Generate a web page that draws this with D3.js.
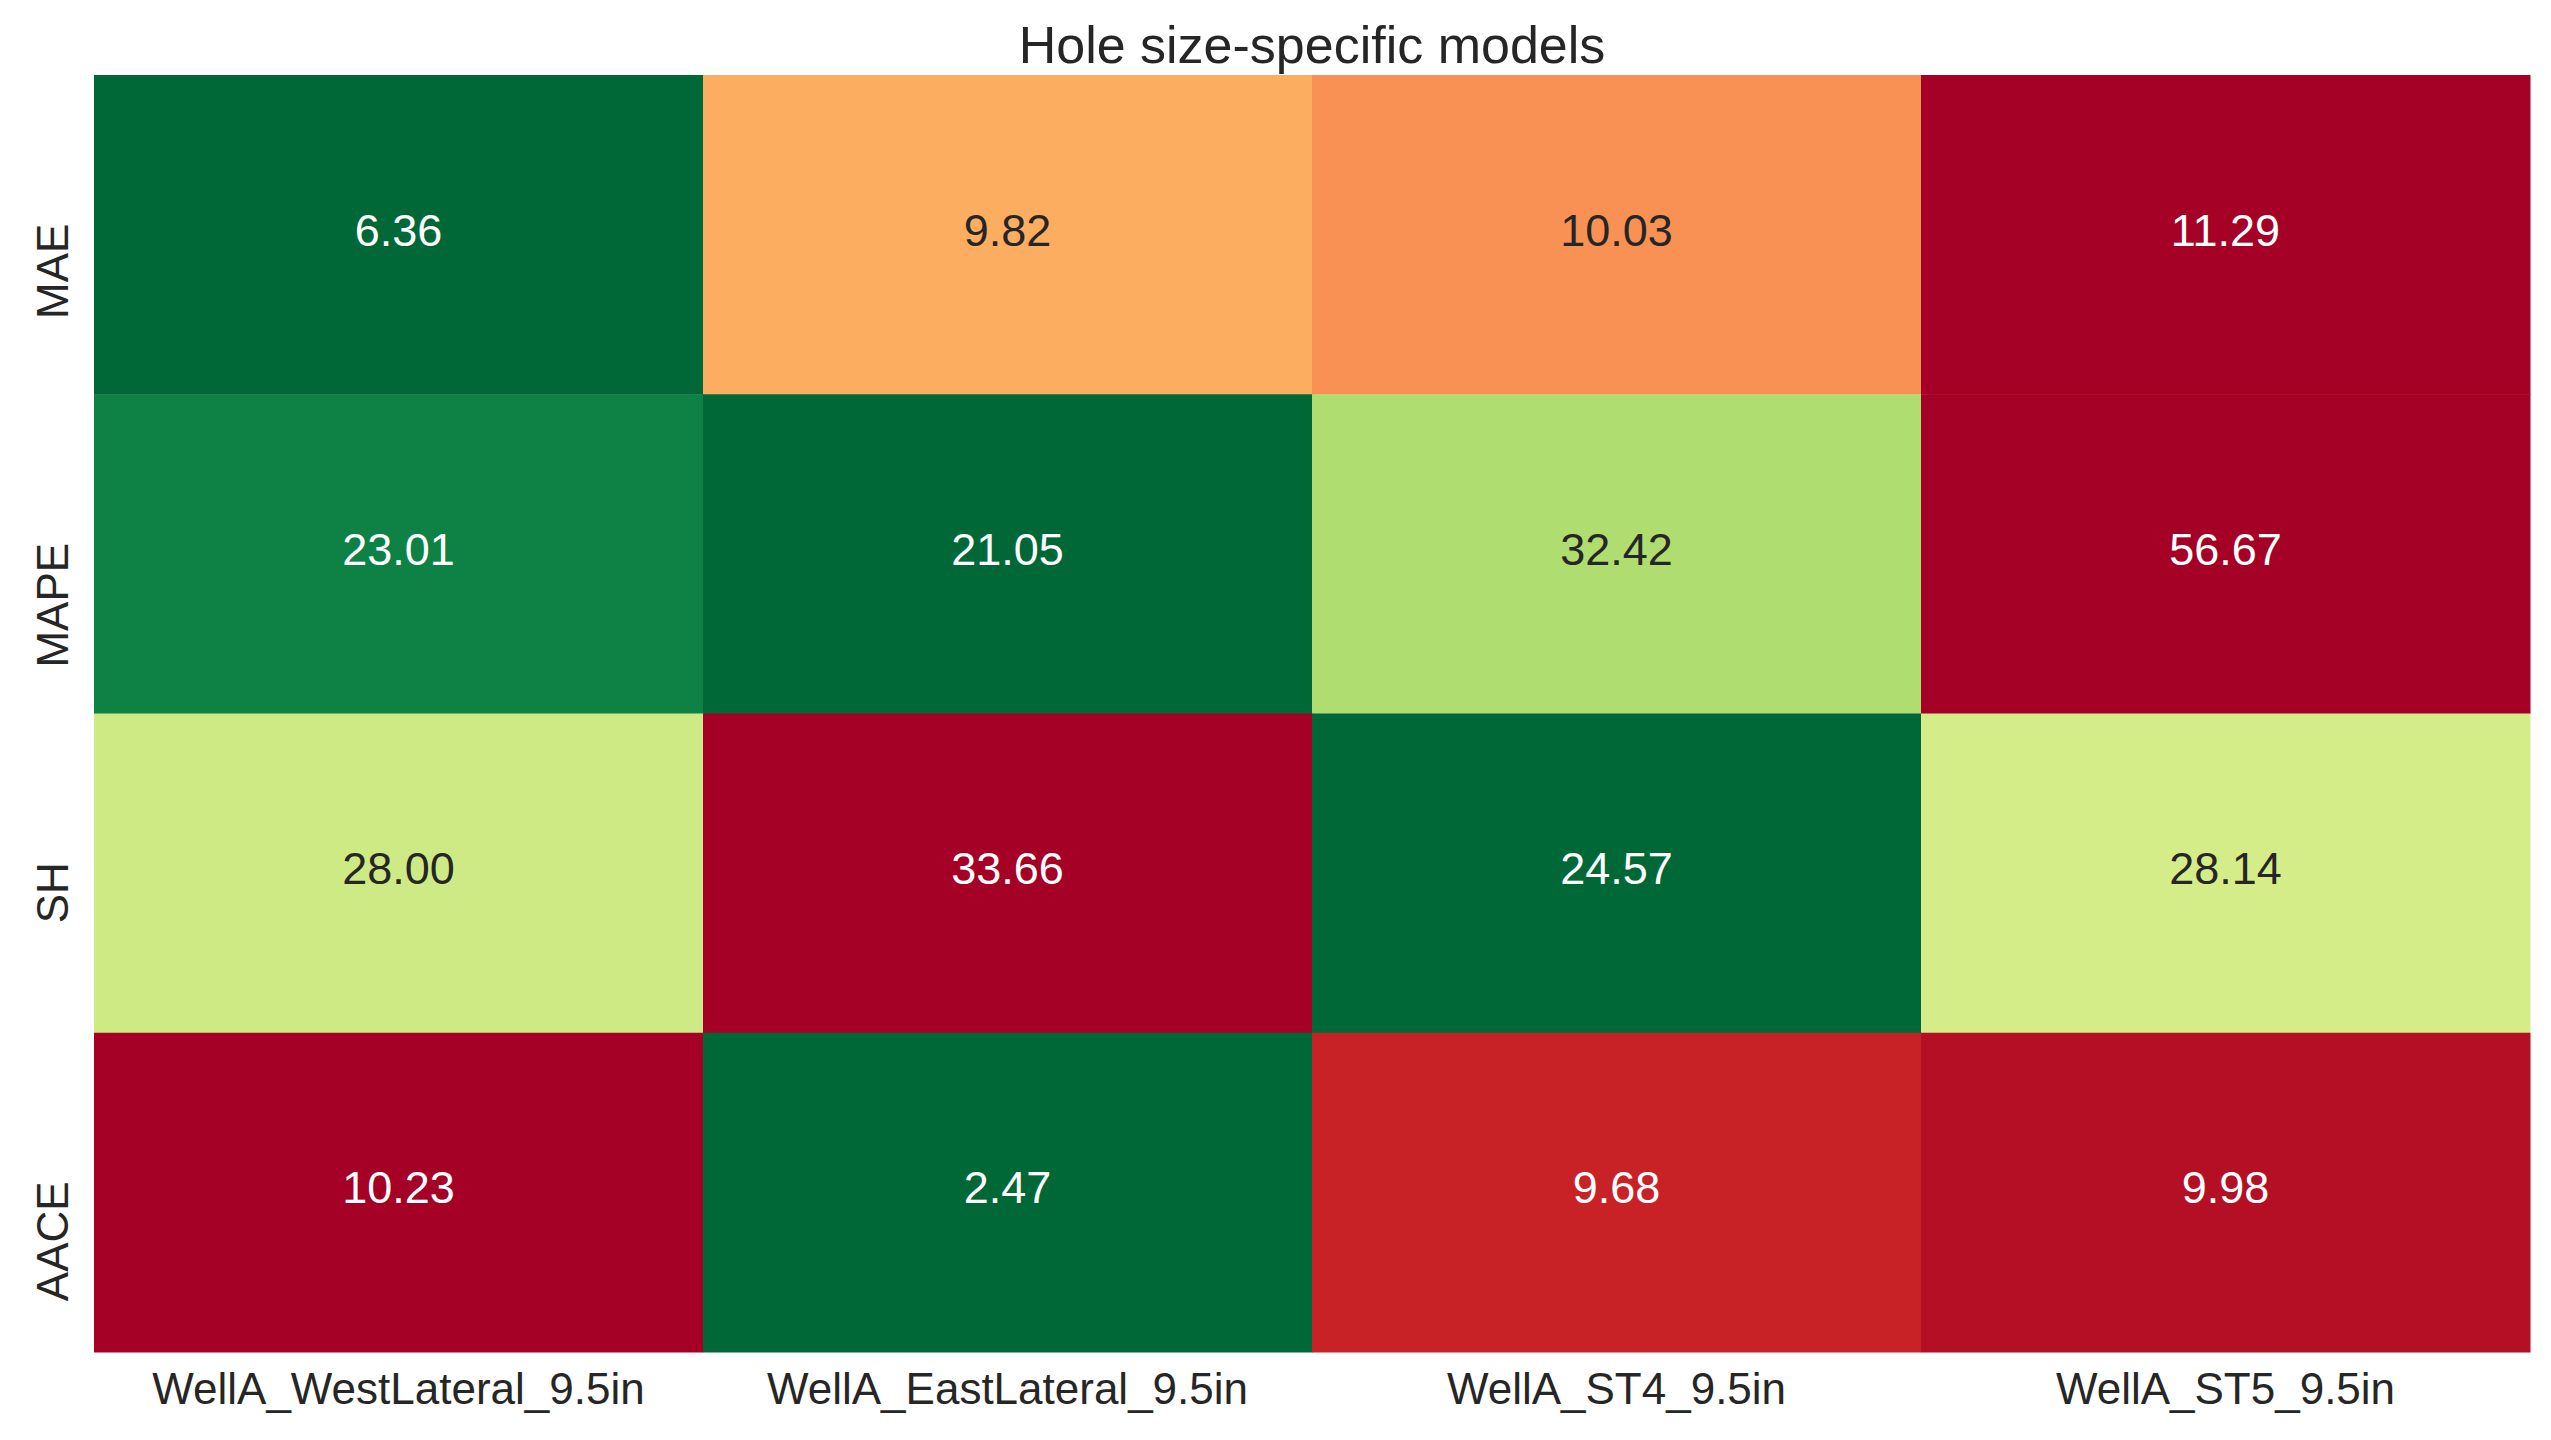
<!DOCTYPE html>
<html>
<head>
<meta charset="utf-8">
<script src="https://cdn.jsdelivr.net/npm/d3@7"></script>
<style>
  body { margin: 0; background: #fff; }
  text { font-family: "Liberation Sans", Arial, sans-serif; }
</style>
</head>
<body>
<script>
// chart data
const wells = ['WellA_WestLateral_9.5in', 'WellA_EastLateral_9.5in', 'WellA_ST4_9.5in', 'WellA_ST5_9.5in'];
const metrics = ['MAE', 'MAPE', 'SH', 'AACE'];
const maeVals = [6.36, 9.82, 10.03, 11.29];
const mapeVals = [23.01, 21.05, 32.42, 56.67];
const shVals = [28.00, 33.66, 24.57, 28.14];
const aaceVals = [10.23, 2.47, 9.68, 9.98];
const title = 'Hole size-specific models';

const rows = [maeVals, mapeVals, shVals, aaceVals];

const W = 2551, H = 1440;
const margin = { top: 75, right: 21, bottom: 88, left: 94 };

const svg = d3.select('body').append('svg').attr('width', W).attr('height', H);

const x = d3.scaleBand().domain(wells).range([margin.left, W - margin.right]);
const y = d3.scaleBand().domain(metrics).range([margin.top, H - margin.bottom]);

// matplotlib RdYlGn is linear between the 11 brewer colours
const stops = d3.schemeRdYlGn[11];
const rdylgn = d3.scaleLinear()
  .domain(d3.range(11).map((i) => i / 10))
  .range(stops)
  .interpolate(d3.interpolateRgb)
  .clamp(true);

// seaborn-like text colour choice from luminance
function luminance(c) {
  const rgb = d3.rgb(c);
  const f = (v) => {
    v /= 255;
    return v <= 0.03928 ? v / 12.92 : Math.pow((v + 0.055) / 1.055, 2.4);
  };
  return 0.2126 * f(rgb.r) + 0.7152 * f(rgb.g) + 0.0722 * f(rgb.b);
}

// each row gets its own colour range, low = green
const cells = [];
rows.forEach((vals, ri) => {
  const [lo, hi] = d3.extent(vals);
  vals.forEach((v, ci) => {
    const t = (v - lo) / (hi - lo);
    cells.push({ metric: metrics[ri], well: wells[ci], value: v, color: rdylgn(1 - t) });
  });
});

const g = svg.append('g');

g.selectAll('rect')
  .data(cells)
  .enter()
  .append('rect')
  .attr('x', (d) => x(d.well))
  .attr('y', (d) => y(d.metric))
  .attr('width', x.bandwidth() + 0.5)
  .attr('height', y.bandwidth() + 0.5)
  .attr('fill', (d) => d.color);

g.selectAll('text.val')
  .data(cells)
  .enter()
  .append('text')
  .attr('class', 'val')
  .attr('x', (d) => x(d.well) + x.bandwidth() / 2)
  .attr('y', (d) => y(d.metric) + y.bandwidth() / 2 + 11)
  .attr('text-anchor', 'middle')
  .attr('font-size', 45)
  .attr('fill', (d) => (luminance(d.color) > 0.408 ? '#262626' : '#ffffff'))
  .text((d) => d.value.toFixed(2));

// axes (no tick marks, no domain line)
const xAxis = svg.append('g')
  .attr('transform', `translate(0,${H - margin.bottom})`)
  .call(d3.axisBottom(x).tickSize(0).tickPadding(0));
xAxis.select('.domain').remove();
xAxis.selectAll('text')
  .attr('y', 52)
  .attr('dy', null)
  .attr('font-size', 44)
  .attr('fill', '#262626');

const yAxis = svg.append('g')
  .attr('transform', `translate(${margin.left},0)`)
  .call(d3.axisLeft(y).tickSize(0).tickPadding(0));
yAxis.select('.domain').remove();
yAxis.selectAll('text')
  .attr('x', null)
  .attr('dy', null)
  .attr('text-anchor', 'end')
  .attr('transform', 'translate(-26,-11) rotate(-90)')
  .attr('font-size', 44)
  .attr('fill', '#262626');

svg.append('text')
  .attr('x', (margin.left + W - margin.right) / 2)
  .attr('y', 63)
  .attr('text-anchor', 'middle')
  .attr('font-size', 52)
  .attr('fill', '#262626')
  .text(title);
</script>
</body>
</html>
